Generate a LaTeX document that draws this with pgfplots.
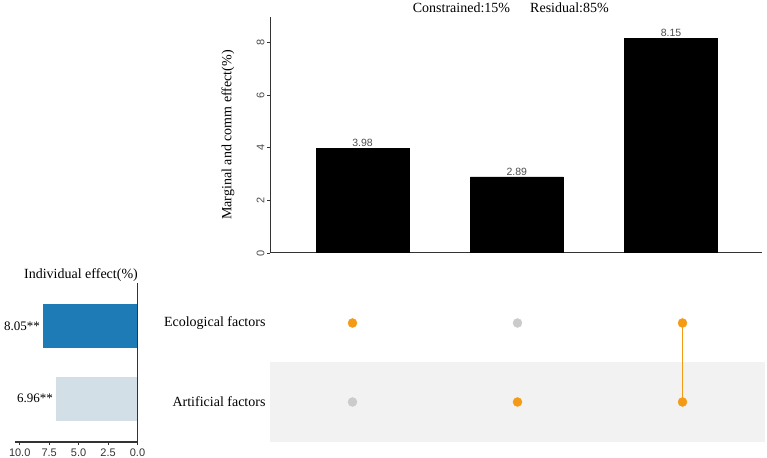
\documentclass[border=0pt]{standalone}
\usepackage{pgfplots}
\pgfplotsset{compat=1.18}
\usepackage{fontspec}
\setmainfont{Liberation Serif}
\newfontfamily\sansnum{Liberation Sans}

\definecolor{dotorange}{HTML}{F49B16}
\definecolor{dotgray}{HTML}{CBCBCB}
\definecolor{bandgray}{HTML}{F2F2F2}
\definecolor{ecoblue}{HTML}{1F7BB6}
\definecolor{artlight}{HTML}{D3DFE6}
\definecolor{axisgray}{HTML}{333333}
\definecolor{labelgray}{HTML}{4D4D4D}

\begin{document}
\begin{tikzpicture}[x=1pt,y=1pt]
\useasboundingbox (0,0) rectangle (767,457);

% ---- shared (marginal and common) effects ----
\begin{axis}[
  at={(270pt,204pt)}, anchor=south west,
  scale only axis, width=492pt, height=236pt,
  xmin=0.4, xmax=3.59, ymin=0, ymax=8.97,
  axis x line*=bottom, axis y line*=left,
  axis line style={-, axisgray, line width=1pt},
  ybar, bar width=93pt,
  xtick=\empty, ytick={0,2,4,6,8},
  tick align=outside, major tick length=3pt,
  tick style={axisgray, line width=0.8pt},
  /pgf/number format/assume math mode=true,
  yticklabel style={rotate=90, anchor=south, font=\sansnum\fontsize{11}{12}\selectfont, text=labelgray, yshift=-1pt},
  nodes near coords,
  nodes near coords style={font=\sansnum\fontsize{10.5}{12}\selectfont, text=labelgray, anchor=south, inner sep=1.5pt,
    /pgf/number format/fixed, /pgf/number format/precision=2, /pgf/number format/zerofill},
]
\addplot[fill=black, draw=black] coordinates {(1,3.98) (2,2.89) (3,8.15)};
\end{axis}

\node[rotate=90, font=\fontsize{14}{16}\selectfont] at (228,322) {Marginal and comm effect(\%)};
\node[font=\fontsize{14}{16}\selectfont] at (461.5,449) {Constrained:15\%};
\node[font=\fontsize{14}{16}\selectfont] at (569.5,449) {Residual:85\%};

% ---- membership matrix ----
\begin{axis}[
  at={(270pt,15.5pt)}, anchor=south west,
  scale only axis, width=495pt, height=158pt,
  xmin=0.5, xmax=3.5, ymin=0.5, ymax=2.5,
  axis line style={draw=none},
  xtick=\empty, ytick={1,2},
  yticklabels={Artificial factors, Ecological factors},
  major tick length=0pt,
  yticklabel style={font=\fontsize{14}{16}\selectfont, xshift=-1pt},
  clip=false,
]
\fill[bandgray] (axis cs:0.5,0.5) rectangle (axis cs:3.5,1.5);
\addplot[dotorange, line width=1.8pt] coordinates {(3,1) (3,2)};
\addplot[only marks, mark=*, mark size=4.5pt, dotgray, mark options={draw=dotgray, fill=dotgray}]
  coordinates {(2,2) (1,1)};
\addplot[only marks, mark=*, mark size=4.5pt, dotorange, mark options={draw=dotorange, fill=dotorange}]
  coordinates {(1,2) (3,2) (2,1) (3,1)};
\end{axis}

% ---- individual effects ----
\begin{axis}[
  at={(15pt,15pt)}, anchor=south west,
  scale only axis, width=122.5pt, height=159pt,
  xbar, bar width=44pt, bar shift=0pt,
  x dir=reverse,
  xmin=0, xmax=10.4, ymin=0.4, ymax=2.6,
  axis x line*=bottom, axis y line*=right,
  axis line style={-, axisgray, line width=1.2pt},
  ytick=\empty, xtick={0,2.5,5,7.5,10},
  tick align=outside, major tick length=3pt,
  tick style={axisgray, line width=0.8pt},
  /pgf/number format/assume math mode=true,
  xticklabel style={font=\sansnum\fontsize{11}{12}\selectfont, text=axisgray,
    /pgf/number format/fixed, /pgf/number format/precision=1, /pgf/number format/zerofill},
  nodes near coords={\pgfmathprintnumber[fixed,precision=2,zerofill]{\pgfplotspointmeta}**},
  nodes near coords style={font=\fontsize{13}{15}\selectfont, anchor=east, inner sep=2.5pt},
  point meta=x,
  clip=false,
]
\addplot[fill=ecoblue, draw=none] coordinates {(8.05,2)};
\addplot[fill=artlight, draw=none] coordinates {(6.96,1)};
\end{axis}
\node[font=\fontsize{14}{16}\selectfont] at (81,182) {Individual effect(\%)};

\end{tikzpicture}
\end{document}
